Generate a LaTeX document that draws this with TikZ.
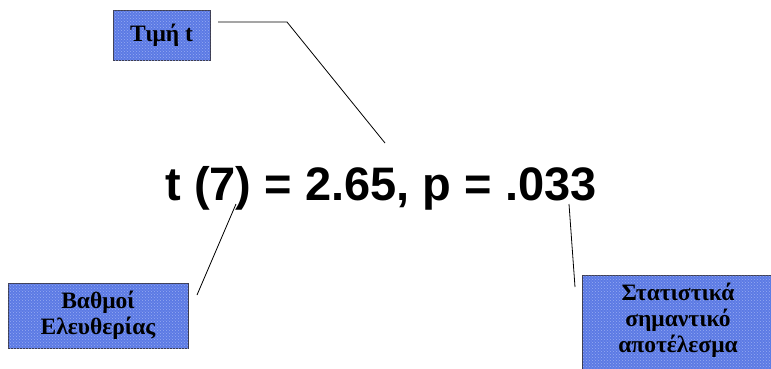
\documentclass[tikz,border=0pt]{standalone}
\usepackage{fontspec}
\setmainfont{Liberation Serif}
\newfontfamily\arialf{Liberation Sans}
\usetikzlibrary{patterns}
\definecolor{boxblue}{RGB}{92,122,228}
\definecolor{boxdots}{RGB}{150,172,242}
\definecolor{boxedge}{RGB}{60,60,80}
\begin{document}
\begin{tikzpicture}[x=1pt,y=-1pt,
  lbl/.style={draw=boxedge,line width=1pt,fill=boxblue,
    postaction={pattern=crosshatch dots,pattern color=boxdots},
    align=center,inner sep=0pt,font=\fontsize{23.5}{26}\selectfont\bfseries},
  conn/.style={black,line width=0.8pt}]
\useasboundingbox (0,0) rectangle (771,368);
\clip (0,0) rectangle (771,368);
\node[lbl,minimum width=97pt,minimum height=50pt] (tval) at (161.5,35) {Τιμή t};
\node[lbl,minimum width=180pt,minimum height=65pt] (df) at (98,315.5) {Βαθμοί\\Ελευθερίας};
\node[lbl,minimum width=190pt,minimum height=102pt,anchor=north west] (sig) at (582,275) {};
\node[align=center,font=\fontsize{23.5}{26}\selectfont\bfseries,inner sep=0pt,anchor=north] (sigtxt) at (678,283) {Στατιστικά\\σημαντικό\\αποτέλεσμα};
\node[anchor=base,inner sep=0pt,font=\arialf\bfseries\fontsize{47}{56}\selectfont] (res) at (381,200) {t (7) = 2.65, p = .033};
\coordinate (a1) at (218,22);
\coordinate (a2) at (287,22);
\coordinate (a3) at (385,143);
\coordinate (b1) at (236,204);
\coordinate (b2) at (197,295);
\coordinate (c1) at (569,204);
\coordinate (c2) at (575,287);
\draw[conn] (a1) -- (a2) -- (a3);
\draw[conn] (b1) -- (b2);
\draw[conn] (c1) -- (c2);
\end{tikzpicture}
\end{document}
